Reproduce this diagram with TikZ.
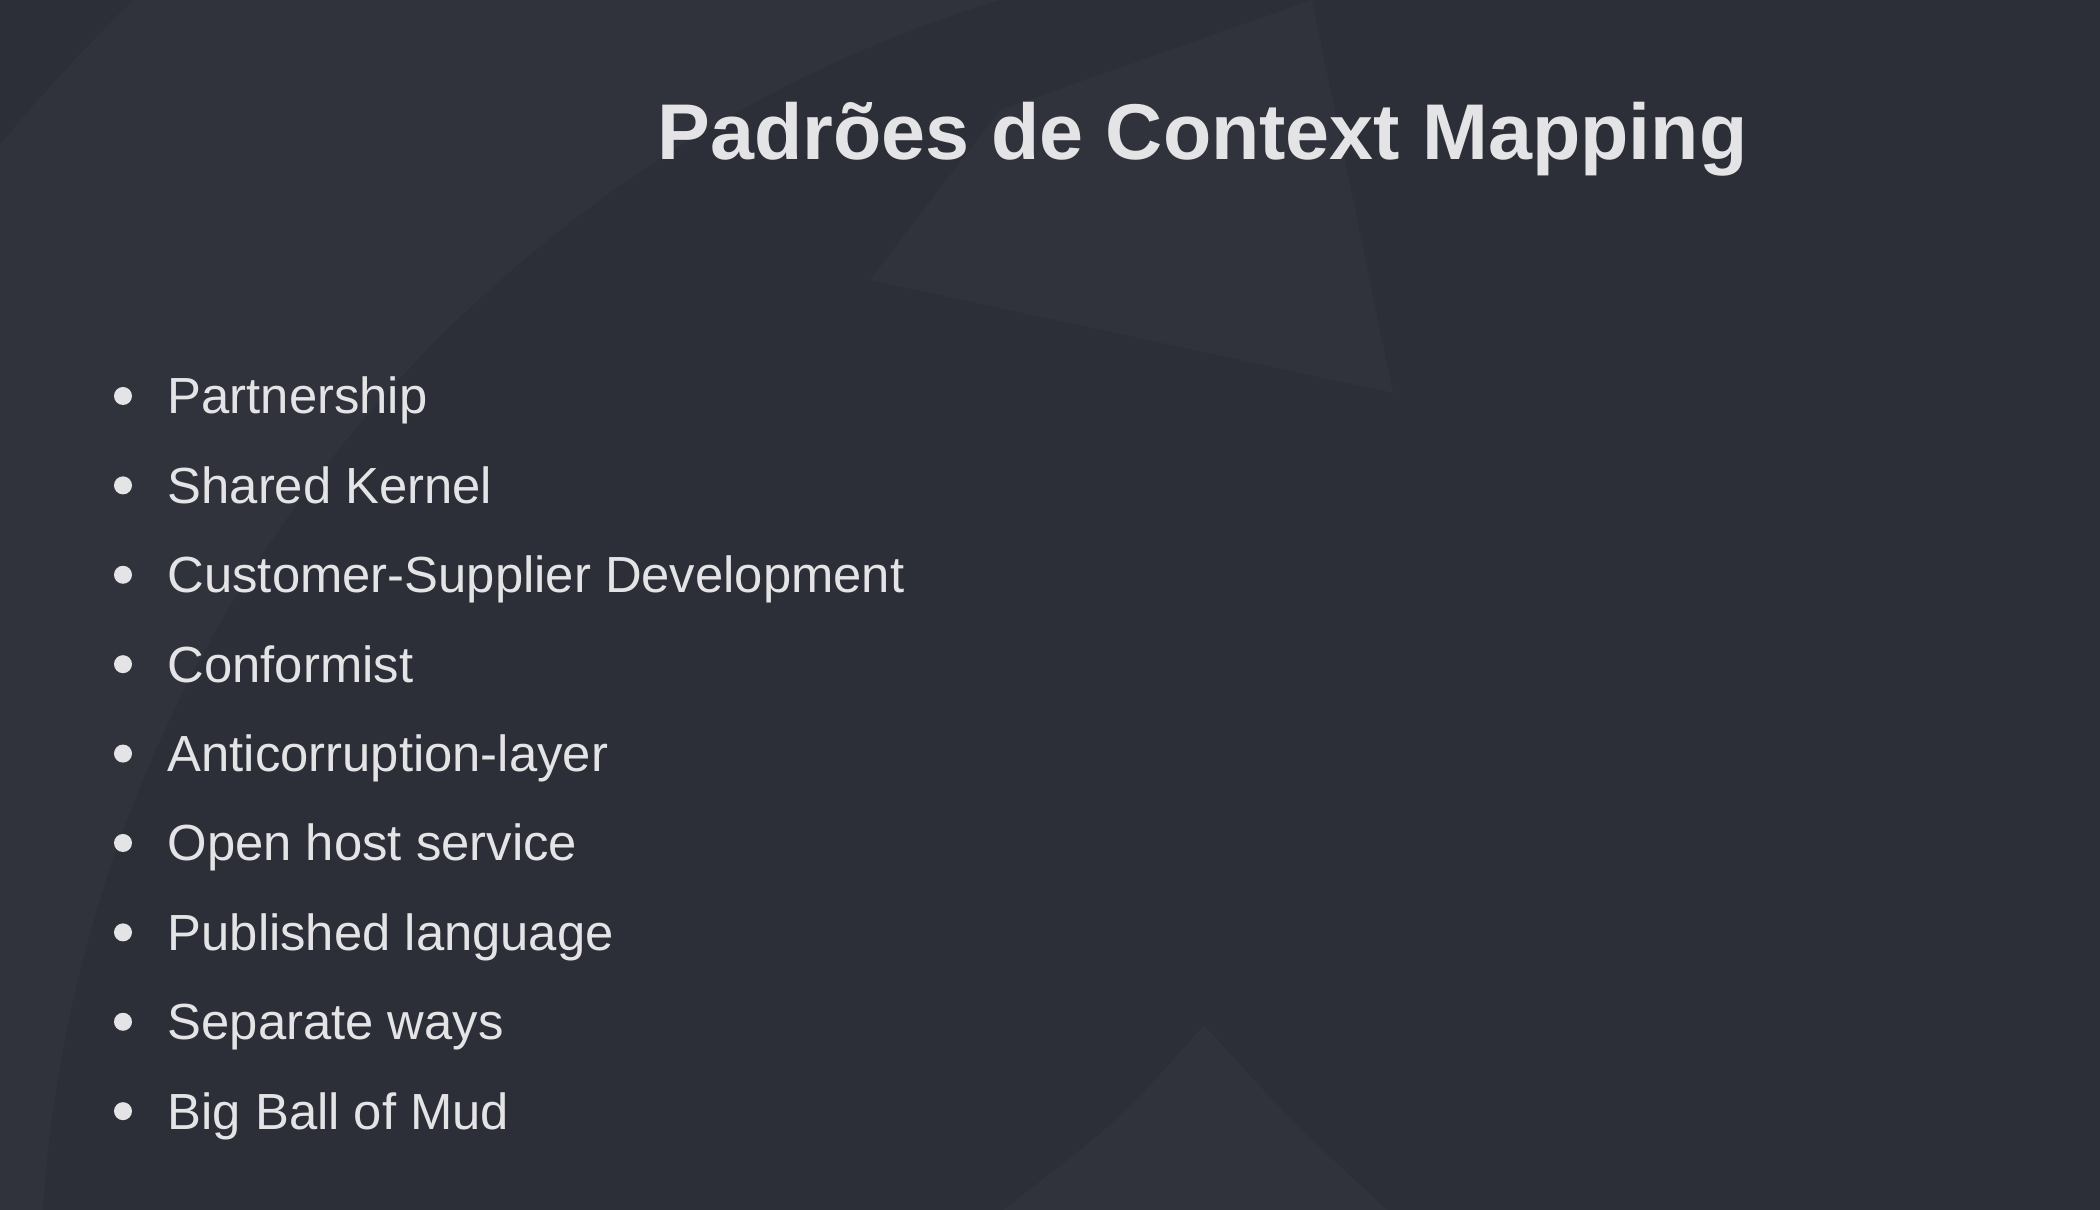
\documentclass[tikz,border=0pt]{standalone}
\usepackage{fontspec}
\setmainfont{Liberation Sans}
\usepackage{xcolor}
\usepackage{tikz}

\definecolor{slidebg}{HTML}{2C2F37}
\definecolor{slidelight}{HTML}{30333B}
\definecolor{slidetext}{HTML}{E4E4E6}

\begin{document}
\begin{tikzpicture}[
    title/.style={anchor=base west,inner sep=0,text=slidetext,font=\fontsize{22.5}{27}\selectfont\bfseries},
    item/.style={anchor=base west,inner sep=0,text=slidetext,font=\fontsize{14.45}{17}\selectfont},
    dot/.style={fill=slidetext}]
        \useasboundingbox (0,0) rectangle (21,12.1);

        % Background.
        \fill[slidebg] (0,0) rectangle (21,12.1);
        \begin{scope}
            \clip (0,0) rectangle (12,12.1);
            \fill[slidelight,even odd rule] (14,-0.9) circle (18.15) (14,-0.9) circle (13.6);
        \end{scope}
        \fill[slidelight] (8.70,9.30) -- (10.00,11.00) -- (13.12,12.1) -- (13.93,8.17) -- cycle;
        \fill[slidelight] (12.04,1.85) .. controls (11.2,0.9) .. (10.03,0) -- (13.87,0) .. controls (12.9,0.9) .. (12.04,1.85);

        % Title.
        \node[title] (ttl) at (6.57,10.50) {Padrões de Context Mapping};

        % Items.
        \node[item] (partner) at (1.67,7.960) {Partnership};
        \node[item] (kernel)  at (1.67,7.066) {Shared Kernel};
        \node[item] (custsup) at (1.67,6.172) {Customer-Supplier Development};
        \node[item] (conform) at (1.67,5.278) {Conformist};
        \node[item] (acl)     at (1.67,4.384) {Anticorruption-layer};
        \node[item] (ohs)     at (1.67,3.490) {Open host service};
        \node[item] (publang) at (1.67,2.596) {Published language};
        \node[item] (sepways) at (1.67,1.702) {Separate ways};
        \node[item] (bbom)    at (1.67,0.808) {Big Ball of Mud};

        % Bullets.
        \fill[dot] ([xshift=-0.44cm,yshift=0.18cm]partner.base west) circle (0.09);
        \fill[dot] ([xshift=-0.44cm,yshift=0.18cm]kernel.base west) circle (0.09);
        \fill[dot] ([xshift=-0.44cm,yshift=0.18cm]custsup.base west) circle (0.09);
        \fill[dot] ([xshift=-0.44cm,yshift=0.18cm]conform.base west) circle (0.09);
        \fill[dot] ([xshift=-0.44cm,yshift=0.18cm]acl.base west) circle (0.09);
        \fill[dot] ([xshift=-0.44cm,yshift=0.18cm]ohs.base west) circle (0.09);
        \fill[dot] ([xshift=-0.44cm,yshift=0.18cm]publang.base west) circle (0.09);
        \fill[dot] ([xshift=-0.44cm,yshift=0.18cm]sepways.base west) circle (0.09);
        \fill[dot] ([xshift=-0.44cm,yshift=0.18cm]bbom.base west) circle (0.09);
    \end{tikzpicture}
\end{document}
